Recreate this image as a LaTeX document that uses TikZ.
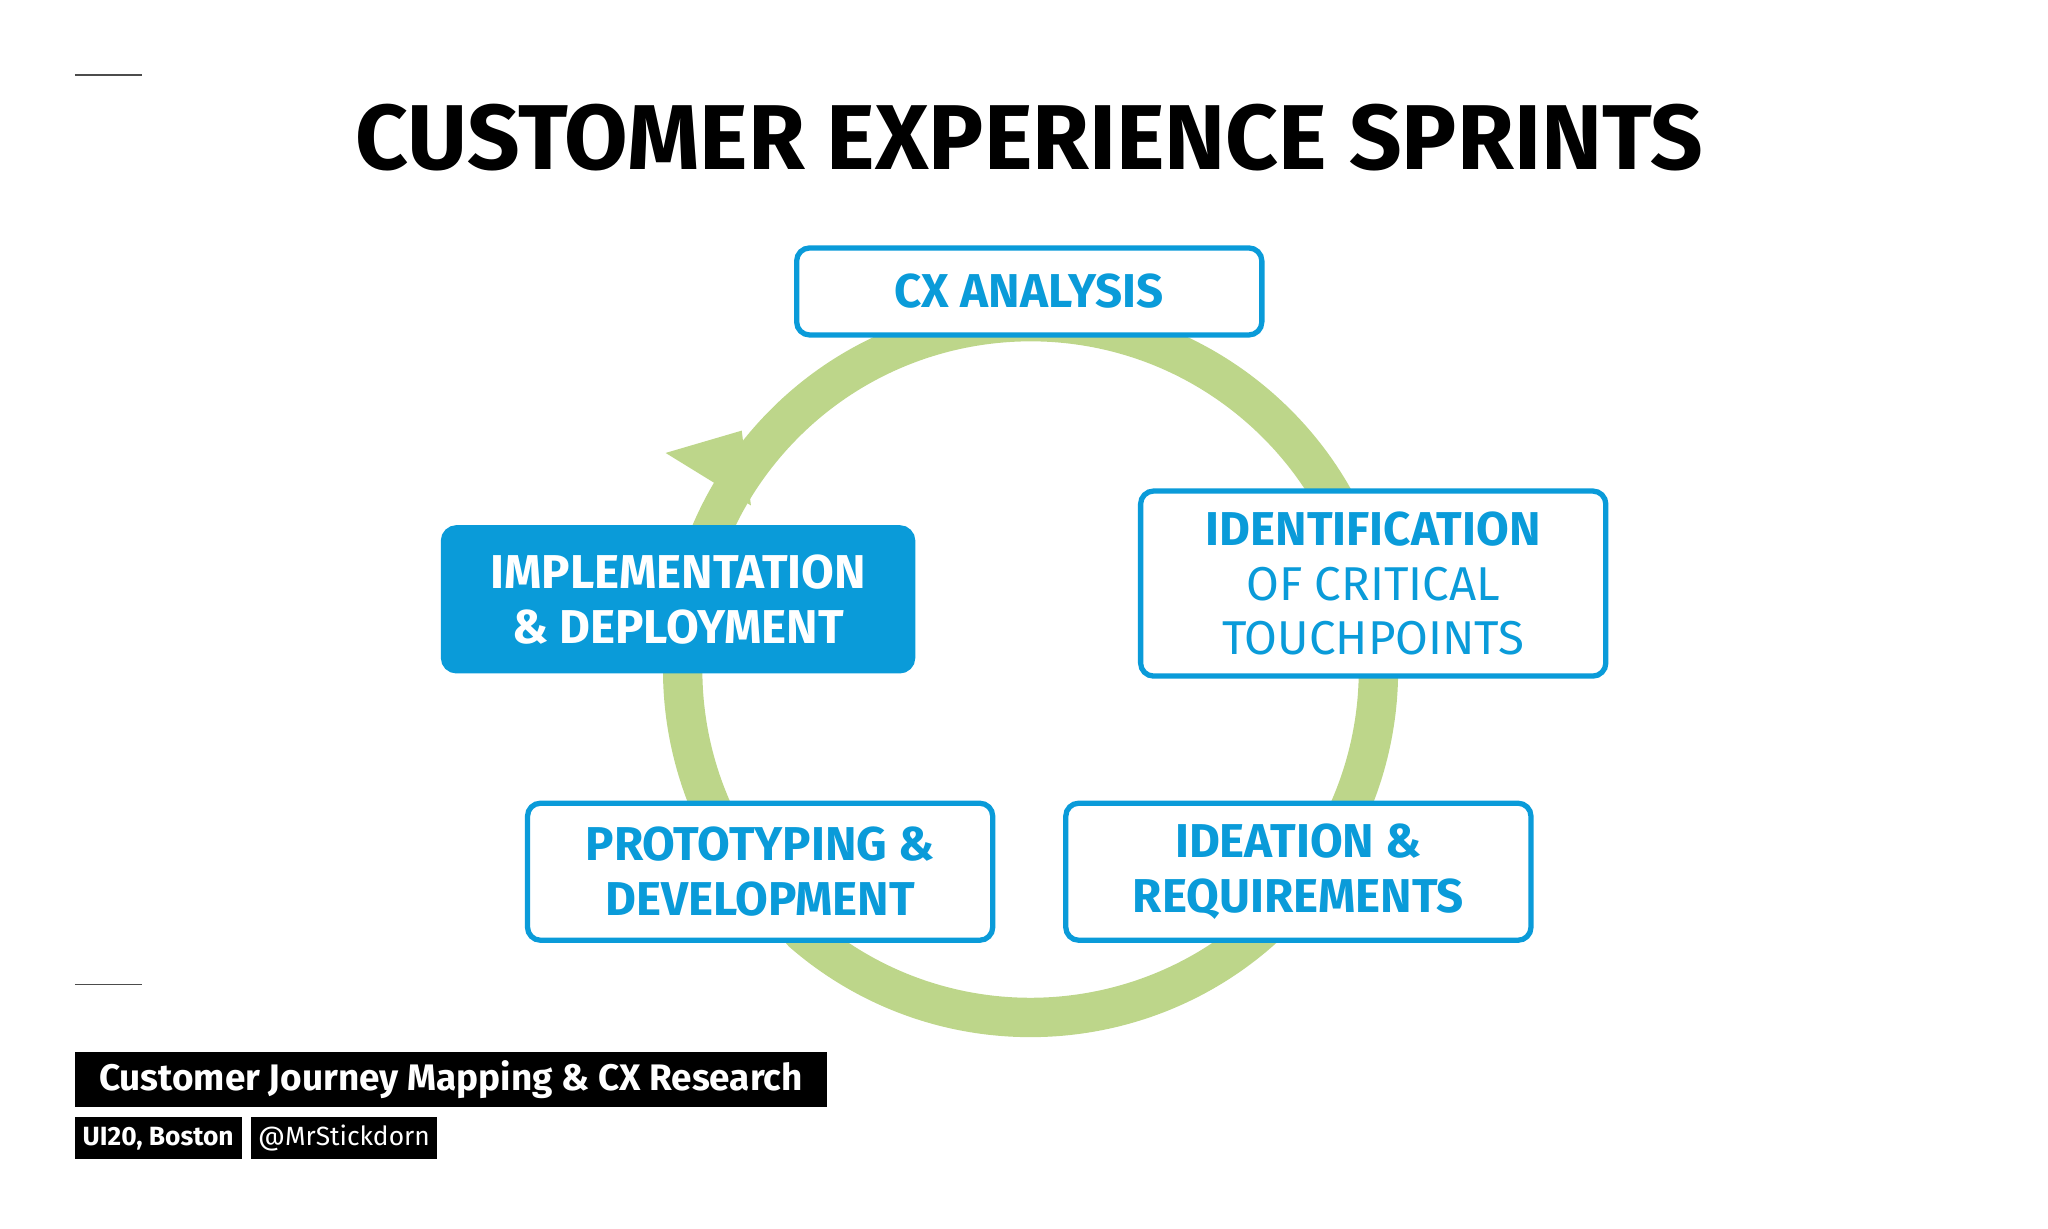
\documentclass[tikz,border=0pt]{standalone}
\usepackage{fontspec}
\setmainfont{Fira Sans}
\definecolor{cxblue}{HTML}{0A9BD9}
\definecolor{cxgreen}{HTML}{BDD68A}
\begin{document}
\begin{tikzpicture}[x=0.01313cm,y=-0.01313cm,
    box/.style={draw=cxblue,line width=1.5pt,rounded corners=0.13cm,fill=white,
      inner sep=0pt,align=center,text=cxblue,font=\fontsize{13.5}{15.5}\selectfont\bfseries},
    tag/.style={fill=black,text=white,inner sep=0pt,align=center}]
  \useasboundingbox (0,0) rectangle (1560,936);
  % side rules
  \draw[line width=0.4pt,black!70] (57,57) -- (108,57);
  \draw[line width=0.4pt,black!70] (57,750) -- (108,750);
  % title
  \node[font=\fontsize{26.2}{30}\selectfont\bfseries] (title) at (784,105) {CUSTOMER EXPERIENCE SPRINTS};
  % cycle ring
  \coordinate (c) at (785,510);
  \draw[cxgreen,line width=11.2pt,line cap=round]
    ([shift={(131:265)}]c) arc[start angle=131,end angle=-208,radius=265];
  \fill[cxgreen] (507,345) -- (565,328) -- (572,385) -- cycle;
  % stages
  \node[box,minimum width=4.65cm,minimum height=0.87cm] (cx) at (784,222) {CX ANALYSIS};
  \node[box,minimum width=4.65cm,minimum height=1.85cm] (ident) at (1046,444.5)
    {IDENTIFICATION\\{\mdseries OF CRITICAL}\\{\mdseries TOUCHPOINTS}};
  \node[box,fill=cxblue,text=white,minimum width=4.69cm,minimum height=1.43cm] (impl) at (516.5,456.5)
    {IMPLEMENTATION\\\& DEPLOYMENT};
  \node[box,minimum width=4.65cm,minimum height=1.37cm] (proto) at (579,664)
    {PROTOTYPING \&\\DEVELOPMENT};
  \node[box,minimum width=4.65cm,minimum height=1.37cm] (idea) at (989,664)
    {IDEATION \&\\REQUIREMENTS};
  % footer
  \node[tag,minimum width=7.52cm,minimum height=0.55cm,font=\fontsize{10.5}{12}\selectfont\bfseries] (foot) at (343.5,822)
    {Customer Journey Mapping \& CX Research};
  \node[tag,minimum width=1.67cm,minimum height=0.42cm,font=\fontsize{7.5}{9}\selectfont\bfseries] (event) at (120.5,867)
    {UI20, Boston};
  \node[tag,minimum width=1.86cm,minimum height=0.42cm,font=\fontsize{7.5}{9}\selectfont] (handle) at (262,867)
    {@MrStickdorn};
\end{tikzpicture}
\end{document}
